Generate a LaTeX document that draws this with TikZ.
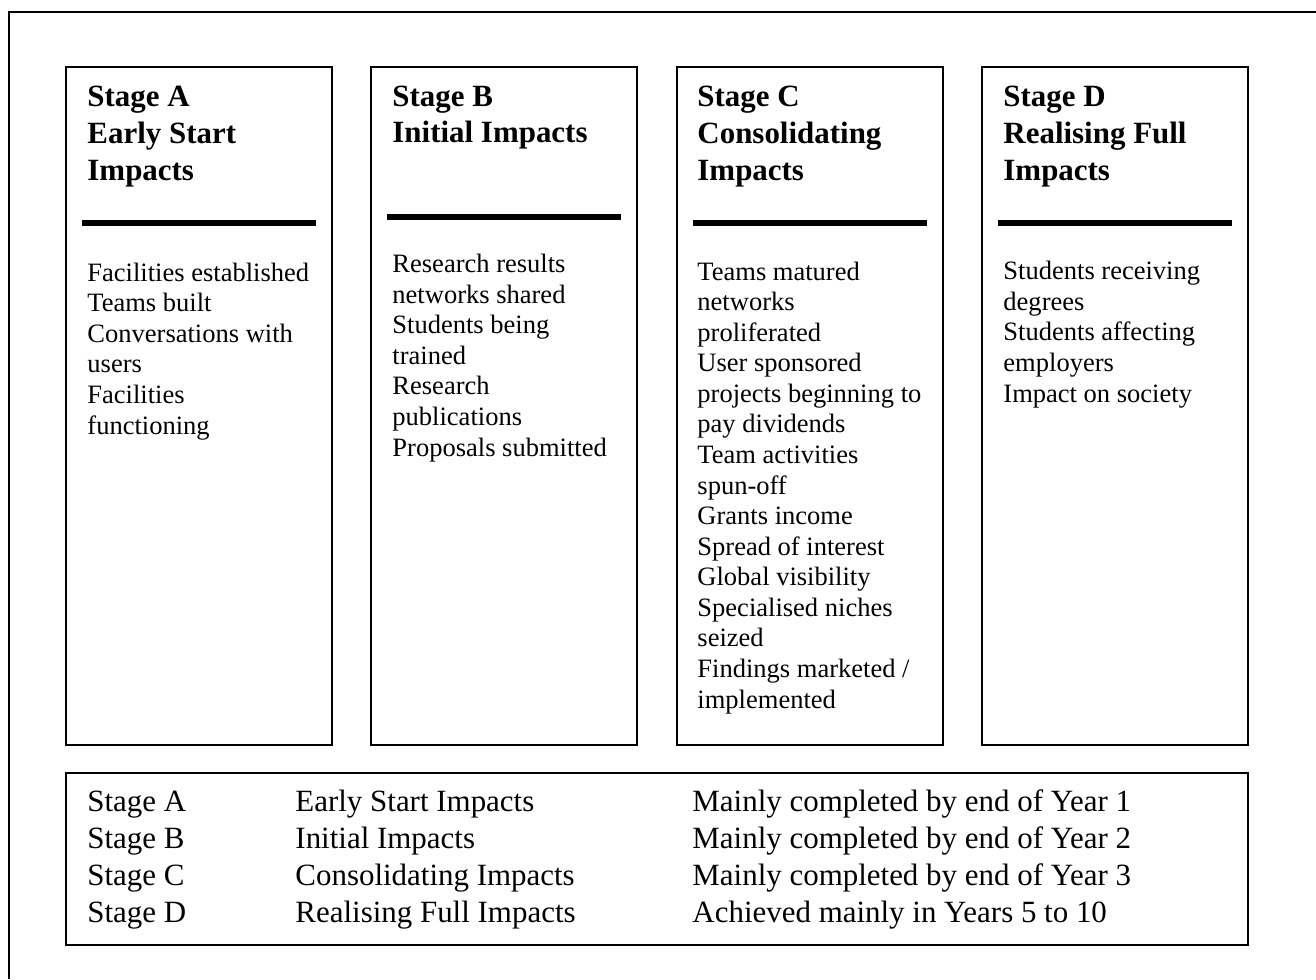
\documentclass[tikz,border=0pt]{standalone}
\usepackage{fontspec}
\setmainfont{Liberation Serif}
\usetikzlibrary{positioning}

\tikzset{
  head/.style={anchor=base west, align=left, inner sep=0pt, font=\fontsize{14}{16.7}\selectfont\bfseries},
  body/.style={anchor=base west, align=left, inner sep=0pt, font=\fontsize{12}{13.83}\selectfont},
  keytext/.style={anchor=base west, align=left, inner sep=0pt, font=\fontsize{14}{16.6}\selectfont}
}

\begin{document}
\begin{tikzpicture}[x=0.4525pt,y=-0.4525pt]
       \useasboundingbox (0,0) rectangle (1316,979);
       % outer frame, only top and left edges on the page
       \draw[line width=0.9pt] (1316,12) -- (9,12) -- (9,979);
       % stage columns with their heading rules
       \foreach \x/\r in {66/223, 371/217, 677/223, 982/223}{
           \draw[line width=0.9pt] (\x,67) rectangle ++(266,678);
           \draw[line width=2.4pt] (\x+16,\r) -- (\x+250,\r);
       }
       % nodes sit on the baseline of their last line
       \node[head] (headA) at (87,180) {Stage A\\Early Start\\Impacts};
       \node[head] (headB) at (392,143) {Stage B\\Initial Impacts};
       \node[head] (headC) at (697,180) {Stage C\\Consolidating\\Impacts};
       \node[head] (headD) at (1003,180) {Stage D\\Realising Full\\Impacts};
       \node[body] (bodyA) at (87,434) {Facilities established\\Teams built\\Conversations with\\users\\Facilities\\functioning};
       \node[body] (bodyB) at (392,456) {Research results\\networks shared\\Students being\\trained\\Research\\publications\\Proposals submitted};
       \node[body] (bodyC) at (697,708) {Teams matured\\networks\\proliferated\\User sponsored\\projects beginning to\\pay dividends\\Team activities\\spun-off\\Grants income\\Spread of interest\\Global visibility\\Specialised niches\\seized\\Findings marketed /\\implemented};
       \node[body] (bodyD) at (1003,402) {Students receiving\\degrees\\Students affecting\\employers\\Impact on society};
       % key along the bottom
       \draw[line width=0.9pt] (66,773) rectangle (1248,945);
       \node[keytext] (keyStage) at (87,922) {Stage A\\Stage B\\Stage C\\Stage D};
       \node[keytext] (keyName) at (295,922) {Early Start Impacts\\Initial Impacts\\Consolidating Impacts\\Realising Full Impacts};
       \node[keytext] (keyTime) at (692,922) {Mainly completed by end of Year 1\\Mainly completed by end of Year 2\\Mainly completed by end of Year 3\\Achieved mainly in Years 5 to 10};
\end{tikzpicture}
\end{document}
